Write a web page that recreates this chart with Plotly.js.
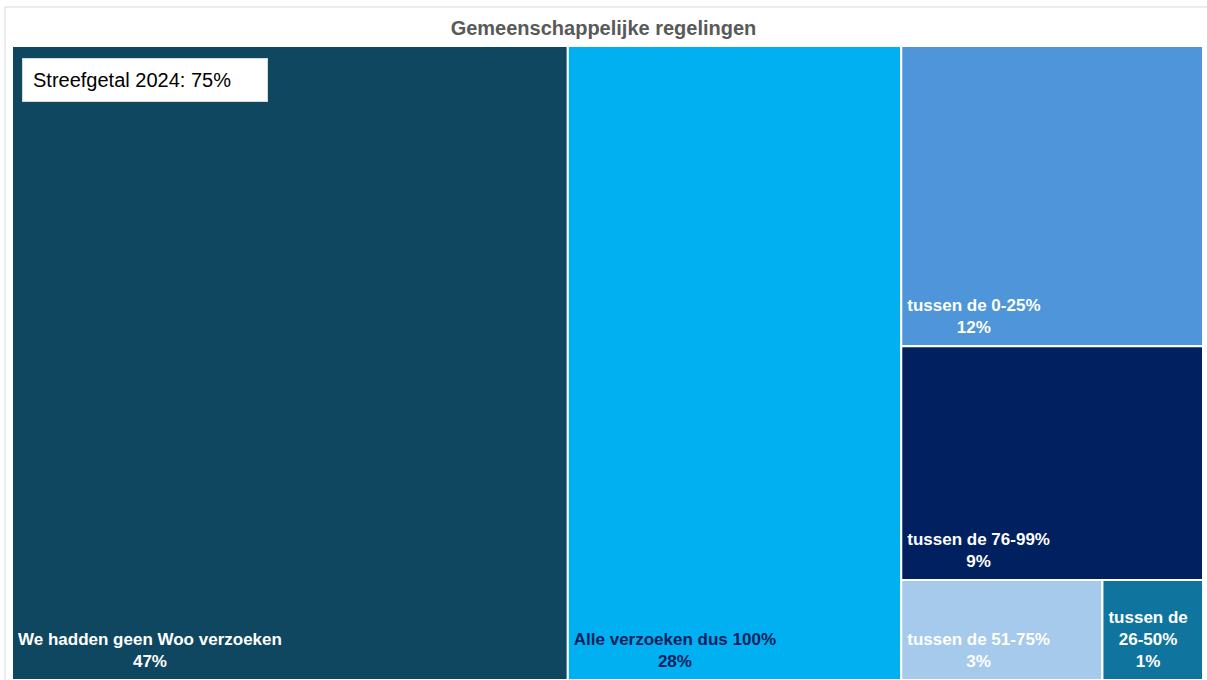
<!DOCTYPE html>
<html>
<head>
<meta charset="utf-8">
<script src="https://cdn.plot.ly/plotly-3.0.1.min.js"></script>
<style>html,body{margin:0;padding:0;background:#fff;}#chart{width:1207px;height:680px;}</style>
</head>
<body>
<div id="chart"></div>
<script>
// Categories (leaves) and their counts (n = 75)
const categories = ["We hadden geen Woo verzoeken", "Alle verzoeken dus 100%", "tussen de 0-25%", "tussen de 76-99%", "tussen de 51-75%", "tussen de<br>26-50%"];
const counts = [35, 21, 9, 7, 2, 1];
const leafParents = ["", "", "g1", "g1", "g2", "g2"];
const leafColors = ["#0F4761", "#00B0F0", "#4E95D9", "#002060", "#A6CAEC", "#0F759F"];
const leafTextColors = ["#FFFFFF", "#002060", "#FFFFFF", "#FFFFFF", "#FFFFFF", "#FFFFFF"];
const titleText = "Gemeenschappelijke regelingen";
const targetText = "Streefgetal 2024: 75%";

// hidden grouping nodes used only for the tiling
const groupIds = ["g1", "g2"];
const groupParents = ["", "g1"];

const ids = categories.map((c, i) => "leaf" + i).concat(groupIds);
const labels = categories.concat(["", ""]);
const parents = leafParents.concat(groupParents);
const values = counts.concat([0, 0]);
const colors = leafColors.concat(["#FFFFFF", "#FFFFFF"]);
const textColors = leafTextColors.concat(["#FFFFFF", "#FFFFFF"]);
const templates = categories.map(() => "%{label}<br>%{percentRoot:.0%}").concat([" ", " "]);

const W = 1207, H = 680;
const FONT = "Liberation Sans, Arial, sans-serif";
const trace = {
  type: "treemap",
  ids: ids,
  labels: labels,
  parents: parents,
  values: values,
  branchvalues: "remainder",
  sort: true,
  tiling: {packing: "slice-dice", pad: 0},
  marker: {colors: colors, line: {color: "#FFFFFF", width: 2}, pad: {t: 0, l: 0, r: 0, b: 0}},
  pathbar: {visible: false},
  texttemplate: templates,
  textposition: "bottom left",
  textfont: {family: FONT, size: 17, weight: "bold", color: textColors},
  hoverinfo: "label+value+percent root",
  domain: {x: [12 / W, 1203 / W], y: [0, 1 - 46 / H]}
};

const layout = {
  width: W, height: H,
  margin: {l: 0, r: 0, t: 0, b: 0},
  paper_bgcolor: "#FFFFFF",
  showlegend: false,
  title: {
    text: "<b>" + titleText + "</b>",
    font: {family: FONT, size: 20, color: "#595959"},
    x: 0.5, xanchor: "center", xref: "paper",
    y: 1 - 28 / H, yanchor: "middle", yref: "container"
  },
  shapes: [{
    type: "rect", xref: "paper", yref: "paper",
    x0: 5 / W, x1: 1.01, y0: -0.01, y1: 1 - 7 / H,
    line: {color: "#D9D9D9", width: 1}, fillcolor: "rgba(0,0,0,0)"
  }],
  annotations: [{
    text: targetText,
    xref: "paper", yref: "paper",
    x: 22 / W, y: 1 - 58 / H, xanchor: "left", yanchor: "top",
    showarrow: false, align: "left",
    width: 224, height: 22, borderpad: 10,
    bgcolor: "#FFFFFF", bordercolor: "#D9D9D9", borderwidth: 1,
    font: {family: FONT, size: 20, color: "#000000"}
  }]
};

const gd = document.getElementById("chart");
Plotly.newPlot(gd, [trace], layout, {displayModeBar: false, staticPlot: true}).then(function () {
  // centre the lines of each cell label on one another, as in the reference
  gd.querySelectorAll("text.slicetext").forEach(function (t) {
    const lines = t.querySelectorAll("tspan.line");
    if (lines.length < 2) return;
    const bb = t.getBBox();
    t.setAttribute("text-anchor", "middle");
    lines.forEach(function (s) { s.setAttribute("x", bb.x + bb.width / 2); });
    t.setAttribute("transform", (t.getAttribute("transform") || "") + " translate(3,-6)");
  });
});
</script>
</body>
</html>
